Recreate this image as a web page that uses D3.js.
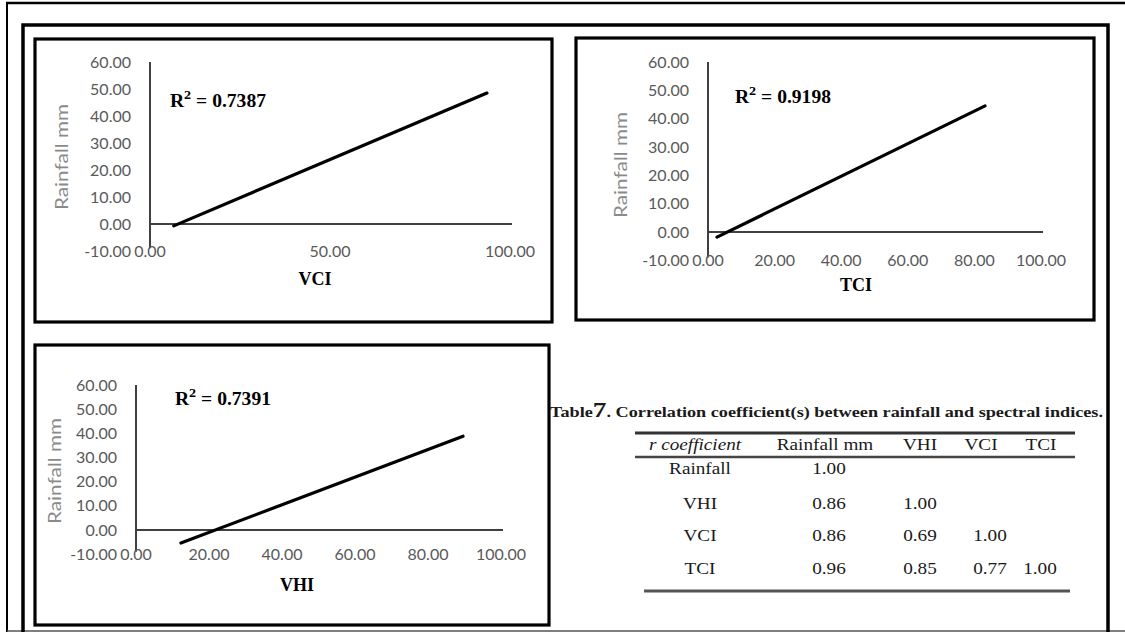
<!DOCTYPE html>
<html><head><meta charset="utf-8">
<script src="https://cdn.jsdelivr.net/npm/d3@7"></script>
<style>html,body{margin:0;padding:0;background:#fff;} svg{display:block;}</style>
</head><body><svg id="c" width="1125" height="632"></svg>
<script>
// ---------- data ----------
const indexNames = ["VCI", "TCI", "VHI"];
const r2Labels = ["0.7387", "0.9198", "0.7391"];
const yTickValues = [-10, 0, 10, 20, 30, 40, 50, 60];
const xTicksVCI = [0, 50, 100];
const xTicksTCI = [0, 20, 40, 60, 80, 100];
const xTicksVHI = [0, 20, 40, 60, 80, 100];
const vciFit = [[6.6, -0.7], [93.6, 48.5]];
const tciFit = [[2.7, -1.8], [83.2, 44.5]];
const vhiFit = [[12.3, -5.4], [89.6, 38.8]];
const yAxisTitle = "Rainfall mm";
const captionPre = "Table";
const captionNum = "7";
const captionPost = ". Correlation coefficient(s) between rainfall and spectral indices.";
const tableHeaders = ["r coefficient", "Rainfall mm", "VHI", "VCI", "TCI"];
const tableRowLabels = ["Rainfall", "VHI", "VCI", "TCI"];
const tableValues = [["1.00"], ["0.86", "1.00"], ["0.86", "0.69", "1.00"], ["0.96", "0.85", "0.77", "1.00"]];

// ---------- layout ----------
const panels = [
  {box: [35, 39, 552, 322], xr: [150, 510], y0: 224, y60: 62, tX: 315, tY: 279, rX: 170, rY: 107, lX: 62, lY: 157, ticks: xTicksVCI, fit: vciFit},
  {box: [576, 38, 1094, 320], xr: [708, 1041], y0: 232, y60: 62, tX: 856, tY: 285, rX: 735, rY: 103, lX: 621, lY: 165, ticks: xTicksTCI, fit: tciFit},
  {box: [35, 345, 549, 625], xr: [136, 501], y0: 530, y60: 385, tX: 297, tY: 585, rX: 175, rY: 405, lX: 55, lY: 471, ticks: xTicksVHI, fit: vhiFit}
];

const svg = d3.select("#c");
const fmt2 = d3.format(".2f");
const fmt = v => fmt2(v).replace("\u2212", "-");
const tickFont = "Lato, Carlito, 'Open Sans', sans-serif";
const serif = "'Liberation Serif', 'DejaVu Serif', serif";

// outer frames
svg.append("line").attr("x1", 7).attr("y1", 3).attr("x2", 7).attr("y2", 632).attr("stroke", "#000").attr("stroke-width", 2);
svg.append("line").attr("x1", 6).attr("y1", 3).attr("x2", 1125).attr("y2", 3).attr("stroke", "#000").attr("stroke-width", 2.5);
svg.append("line").attr("x1", 7).attr("y1", 631).attr("x2", 1125).attr("y2", 631).attr("stroke", "#555").attr("stroke-width", 1.5);
svg.append("path").attr("d", "M23,633 L23,25 L1108,25 L1108,633").attr("fill", "none").attr("stroke", "#000").attr("stroke-width", 3.5);

panels.forEach((p, i) => {
  const g = svg.append("g");
  const [bx0, by0, bx1, by1] = p.box;
  g.append("rect").attr("x", bx0).attr("y", by0).attr("width", bx1 - bx0).attr("height", by1 - by0)
    .attr("fill", "#fff").attr("stroke", "#000").attr("stroke-width", 3.2);

  const x = d3.scaleLinear().domain([0, 100]).range(p.xr);
  const y = d3.scaleLinear().domain([0, 60]).range([p.y0, p.y60]);

  // axes lines
  g.append("line").attr("x1", x(0)).attr("x2", x(0)).attr("y1", y(60)).attr("y2", y(-9))
    .attr("stroke", "#404040").attr("stroke-width", 2);
  g.append("line").attr("x1", x(0)).attr("x2", x(100) + 2).attr("y1", y(0)).attr("y2", y(0))
    .attr("stroke", "#404040").attr("stroke-width", 2);

  // y tick labels
  g.selectAll(".yt").data(yTickValues).join("text")
    .attr("x", x(0) - 19).attr("y", d => y(d)).attr("dy", "0.35em")
    .attr("text-anchor", "end").attr("font-family", tickFont).attr("font-size", 16)
    .attr("fill", "#595959").text(d => fmt(d));
  // x tick labels
  g.selectAll(".xt").data(p.ticks).join("text")
    .attr("x", d => x(d)).attr("y", y(-10)).attr("dy", "0.35em")
    .attr("text-anchor", "middle").attr("font-family", tickFont).attr("font-size", 16)
    .attr("fill", "#595959").text(d => fmt(d));

  // axis titles
  g.append("text").attr("x", p.tX).attr("y", p.tY).attr("dy", "0.35em").attr("text-anchor", "middle")
    .attr("font-family", serif).attr("font-weight", "bold").attr("font-size", 18).attr("fill", "#000")
    .text(indexNames[i]);
  g.append("text").attr("transform", `translate(${p.lX},${p.lY}) rotate(-90)`).attr("dy", "0.35em")
    .attr("text-anchor", "middle").attr("font-family", tickFont).attr("font-size", 17)
    .attr("textLength", 106).attr("lengthAdjust", "spacingAndGlyphs")
    .attr("fill", "#8a8a8a").text(yAxisTitle);

  // R² label
  const t = g.append("text").attr("x", p.rX).attr("y", p.rY).attr("font-family", serif)
    .attr("font-weight", "bold").attr("font-size", 18).attr("fill", "#000")
    .attr("textLength", 96).attr("lengthAdjust", "spacingAndGlyphs");
  t.append("tspan").text("R");
  t.append("tspan").attr("font-size", 13).attr("dy", -8).text("2");
  t.append("tspan").attr("dy", 8).text(" = " + r2Labels[i]);

  // fit line
  g.append("path").datum(p.fit)
    .attr("d", d3.line().x(d => x(d[0])).y(d => y(d[1])))
    .attr("fill", "none").attr("stroke", "#000").attr("stroke-width", 3.2).attr("stroke-linecap", "round");
});

// ---------- table ----------
const tg = svg.append("g");
const cap = tg.append("text").attr("x", 550).attr("y", 412).attr("dy", "0.35em")
  .attr("font-family", serif).attr("font-size", 14).attr("fill", "#1a1a1a").attr("font-weight", "bold")
  .attr("textLength", 553).attr("lengthAdjust", "spacingAndGlyphs");
cap.append("tspan").text(captionPre);
cap.append("tspan").attr("font-size", 21).text(captionNum);
cap.append("tspan").text(captionPost);

const rules = [[635, 1075, 433, 3, "#333"], [635, 1075, 457, 2.5, "#444"], [644, 1070, 591, 3, "#555"]];
rules.forEach(r => tg.append("line").attr("x1", r[0]).attr("x2", r[1]).attr("y1", r[2]).attr("y2", r[2])
  .attr("stroke", r[4]).attr("stroke-width", r[3]));

const headerX = [695, 825, 920, 981, 1041];
const colX = [829, 920, 990, 1040];
const rowY = [468, 503, 535, 568];
function cell(txt, cx, cy, italic) {
  tg.append("text").attr("transform", `translate(${cx},${cy}) scale(1.2,1)`).attr("dy", "0.35em")
    .attr("text-anchor", "middle").attr("font-family", serif).attr("font-size", 16)
    .attr("font-style", italic ? "italic" : "normal").attr("fill", "#1a1a1a").text(txt);
}
tableHeaders.forEach((h, j) => cell(h, headerX[j], 444, j === 0));
tableRowLabels.forEach((r, i) => {
  cell(r, 700, rowY[i], false);
  tableValues[i].forEach((v, j) => cell(v, colX[j], rowY[i], false));
});
</script></body></html>
